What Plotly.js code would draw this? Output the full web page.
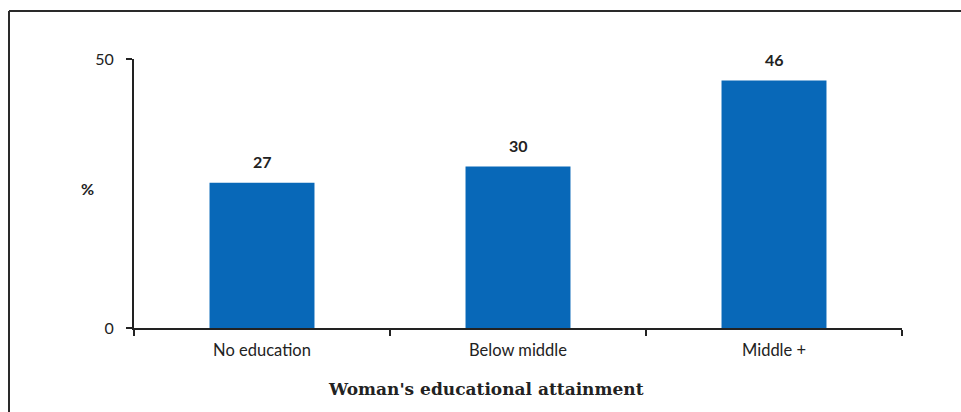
<!DOCTYPE html>
<html>
<head>
<meta charset="utf-8">
<script src="https://cdn.plot.ly/plotly-3.0.1.min.js"></script>
<style>html,body{margin:0;padding:0;background:#fff;}#chart{width:961px;height:412px;}</style>
</head>
<body>
<div id="chart"></div>
<script>
const categories = ["No education", "Below middle", "Middle +"];
const values = [27, 30, 46];
const valueLabels = ["27", "30", "46"];
const yTicks = [0, 50];
const xTitle = "Woman's educational attainment";
const yLabel = "%";

const L = 134, R = 59, T = 59, B = 84, W = 961, H = 412;
const pw = W - L - R, ph = H - T - B;
const px = x => (x - L) / pw;
const py = y => (H - B - y) / ph;

const trace = {
  type: 'bar',
  x: categories,
  y: values,
  marker: {color: '#0868B8'},
  hoverinfo: 'none'
};

const annotations = categories.map((c, i) => ({
  x: c, y: values[i], xref: 'x', yref: 'y',
  text: '<b>' + valueLabels[i] + '</b>', showarrow: false,
  yanchor: 'middle', yshift: 21,
  font: {family: 'Lato, "Open Sans", sans-serif', size: 16, color: '#222'}
}));
annotations.push({
  x: px(87), y: py(188), xref: 'paper', yref: 'paper',
  text: '<b>' + yLabel + '</b>', showarrow: false,
  xanchor: 'center', yanchor: 'middle',
  font: {family: 'Lato, sans-serif', size: 16, color: '#222'}
});
annotations.push({
  x: px(486), y: py(389), xref: 'paper', yref: 'paper',
  text: '<b>' + xTitle + '</b>', showarrow: false,
  xanchor: 'center', yanchor: 'middle',
  font: {family: '"DejaVu Serif", serif', size: 17, color: '#222'}
});

const layout = {
  width: W, height: H,
  margin: {l: L, r: R, t: T, b: B, pad: 0},
  paper_bgcolor: '#fff', plot_bgcolor: '#fff',
  showlegend: false,
  bargap: 0.59,
  xaxis: {
    type: 'category',
    showgrid: false, zeroline: false,
    showline: true, linecolor: '#222', linewidth: 2,
    ticks: 'outside', tickson: 'boundaries', ticklen: 6, tickwidth: 2, tickcolor: '#222',
    ticklabelstandoff: 6,
    tickfont: {family: 'Lato, "Open Sans", sans-serif', size: 16.5, color: '#222'},
    fixedrange: true
  },
  yaxis: {
    range: [0, 50],
    tickvals: yTicks,
    showgrid: false, zeroline: false,
    showline: true, linecolor: '#222', linewidth: 2,
    ticks: 'outside', ticklen: 6, tickwidth: 2, tickcolor: '#222',
    ticklabelstandoff: 9,
    tickfont: {family: 'Lato, "Open Sans", sans-serif', size: 16, color: '#222'},
    fixedrange: true
  },
  annotations: annotations,
  shapes: [
    {type: 'line', xref: 'paper', yref: 'paper', x0: px(9), x1: px(9), y0: py(11), y1: py(412), line: {color: '#2a2a2a', width: 2}},
    {type: 'line', xref: 'paper', yref: 'paper', x0: px(9), x1: px(961), y0: py(11), y1: py(11), line: {color: '#2a2a2a', width: 2}}
  ]
};

Plotly.newPlot('chart', [trace], layout, {displayModeBar: false, staticPlot: true});
</script>
</body>
</html>
